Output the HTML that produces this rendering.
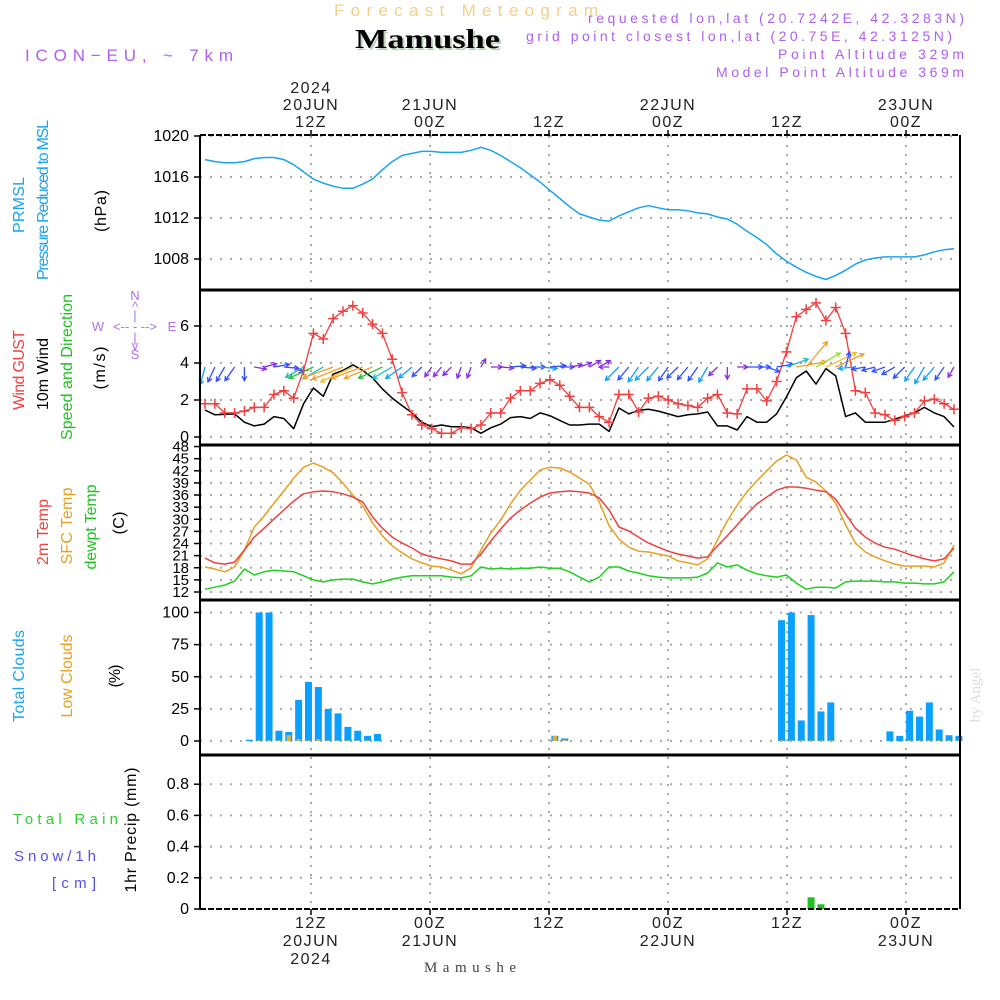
<!DOCTYPE html>
<html><head><meta charset="utf-8"><style>
html,body{margin:0;padding:0;background:#fff;}
svg{display:block;font-family:"Liberation Sans",sans-serif;}
</style></head><body>
<svg id="chart" width="1000" height="1000" viewBox="0 0 1000 1000">
<rect x="0" y="0" width="1000" height="1000" fill="#fff"/>
<!-- header -->
<text x="334" y="16" font-size="17" fill="#f5cf8a" textLength="264" lengthAdjust="spacing">Forecast Meteogram</text>
<text x="357" y="50" font-family="Liberation Serif,serif" font-weight="bold" font-size="27" fill="#bcd0bc" textLength="145" lengthAdjust="spacingAndGlyphs">Mamushe</text>
<text x="355" y="48" font-family="Liberation Serif,serif" font-weight="bold" font-size="27" fill="#000" textLength="145" lengthAdjust="spacingAndGlyphs">Mamushe</text>
<text x="25" y="61" font-size="17" fill="#b060f0" textLength="208" lengthAdjust="spacing">ICON−EU, ~ 7km</text>
<g font-size="14" fill="#b060f0" text-anchor="end">
<text x="964" y="23" textLength="376" lengthAdjust="spacing">requested lon,lat (20.7242E, 42.3283N)</text>
<text x="952" y="41" textLength="426" lengthAdjust="spacing">grid point closest lon,lat (20.75E, 42.3125N)</text>
<text x="964" y="59" textLength="186" lengthAdjust="spacing">Point Altitude 329m</text>
<text x="964" y="77" textLength="248" lengthAdjust="spacing">Model Point Altitude 369m</text>
</g>
<text x="980" y="695" font-family="Liberation Serif,serif" font-size="15" fill="#ddd" transform="rotate(-90 980 695)" text-anchor="middle">by Angel</text>
<text x="470" y="972" font-family="Liberation Serif,serif" font-size="15" fill="#444" text-anchor="middle" textLength="92" lengthAdjust="spacing">Mamushe</text>

<!-- left axis labels -->
<g font-size="16" text-anchor="middle">
<text x="24" y="205" fill="#1aa3f0" transform="rotate(-90 24 205)" textLength="56">PRMSL</text>
<text x="48" y="200" fill="#1aa3f0" transform="rotate(-90 48 200)" textLength="160">Pressure Reduced to MSL</text>
<text x="106" y="211" fill="#000" transform="rotate(-90 106 211)" textLength="42">(hPa)</text>
<text x="24" y="370" fill="#f04040" transform="rotate(-90 24 370)" textLength="80">Wind GUST</text>
<text x="48" y="374" fill="#000" transform="rotate(-90 48 374)" textLength="72">10m Wind</text>
<text x="72" y="367" fill="#20c020" transform="rotate(-90 72 367)" textLength="146">Speed and Direction</text>
<text x="105" y="368" fill="#000" transform="rotate(-90 105 368)" textLength="43">(m/s)</text>
<text x="48" y="532" fill="#f04040" transform="rotate(-90 48 532)" textLength="66">2m Temp</text>
<text x="72" y="526" fill="#e8a020" transform="rotate(-90 72 526)" textLength="77">SFC Temp</text>
<text x="96" y="527" fill="#20c020" transform="rotate(-90 96 527)" textLength="85">dewpt Temp</text>
<text x="124" y="523" fill="#000" transform="rotate(-90 124 523)" textLength="23">(C)</text>
<text x="24" y="676" fill="#1aa3f0" transform="rotate(-90 24 676)" textLength="92">Total Clouds</text>
<text x="72" y="676" fill="#e8a020" transform="rotate(-90 72 676)" textLength="83">Low Clouds</text>
<text x="120" y="676" fill="#000" transform="rotate(-90 120 676)" textLength="23">(%)</text>
<text x="136" y="830" fill="#000" transform="rotate(-90 136 830)" textLength="125">1hr Precip (mm)</text>
</g>
<g font-size="15">
<text x="13" y="824" fill="#30d030" textLength="105" lengthAdjust="spacing">Total   Rain</text>
<text x="14" y="861" fill="#5050f0" textLength="82" lengthAdjust="spacing">Snow/1h</text>
<text x="52" y="888" fill="#5050f0" textLength="44" lengthAdjust="spacing">[cm]</text>
</g>
<g fill="#b070f0" font-size="13" text-anchor="middle">
<text x="135" y="300">N</text><text x="135" y="311">^</text><text x="135" y="320">|</text>
<text x="98" y="331">W</text><text x="135" y="331">&lt;-- - --&gt;</text><text x="172" y="331">E</text>
<text x="135" y="342">|</text><text x="135" y="350">v</text><text x="135" y="359">S</text>
</g>

<g id="grid"></g>
<g id="marks"></g>
<g id="frame"></g>
<g id="ticks" font-size="16" fill="#000"></g>
</svg>
<script>
// ---- data (hourly, 77 steps starting ~01Z 20JUN) ----
var pressure=[1017.7,1017.5,1017.4,1017.4,1017.5,1017.8,1017.9,1017.9,1017.7,1017.2,1016.5,1015.8,1015.4,1015.1,1014.9,1014.9,1015.3,1015.8,1016.7,1017.5,1018.1,1018.3,1018.5,1018.5,1018.4,1018.4,1018.4,1018.6,1018.9,1018.6,1018.1,1017.5,1016.9,1016.2,1015.5,1014.7,1013.9,1013.1,1012.4,1012.1,1011.8,1011.7,1012.2,1012.6,1013.0,1013.2,1013.0,1012.8,1012.8,1012.7,1012.5,1012.4,1012.1,1011.9,1011.4,1010.7,1010.1,1009.4,1008.5,1007.8,1007.2,1006.7,1006.3,1006.0,1006.4,1006.9,1007.5,1007.9,1008.1,1008.2,1008.2,1008.2,1008.2,1008.4,1008.7,1008.9,1009.0];
var gust=[1.8,1.8,1.3,1.3,1.4,1.6,1.6,2.3,2.5,2.1,3.6,5.6,5.3,6.4,6.8,7.1,6.7,6.1,5.6,4.2,2.4,1.2,0.65,0.45,0.2,0.2,0.5,0.45,0.65,1.3,1.3,2.1,2.5,2.5,2.9,3.1,2.8,2.2,1.6,1.6,1.1,0.8,2.3,2.3,1.35,2.1,2.2,2.0,1.8,1.7,1.6,2.1,2.3,1.3,1.25,2.6,2.6,1.95,3.0,4.6,6.5,6.9,7.25,6.3,7.0,5.6,2.5,2.4,1.3,1.2,0.9,1.1,1.3,1.95,2.05,1.8,1.5];
var wind=[1.46,1.2,1.22,1.25,0.8,0.6,0.7,1.1,1.0,0.45,1.8,2.65,2.2,3.4,3.6,3.9,3.6,3.2,2.6,2.1,1.7,1.3,0.8,0.55,0.65,0.55,0.55,0.5,0.2,0.5,0.7,1.05,1.1,1.0,1.3,1.15,0.9,0.65,0.65,0.7,0.7,0.3,1.57,1.25,1.45,1.5,1.4,1.25,1.1,1.2,1.25,1.35,0.6,0.6,0.38,1.1,0.8,0.8,1.25,2.16,3.2,3.57,2.86,3.7,3.3,1.1,1.3,0.8,0.8,0.8,0.97,1.14,1.3,1.6,1.3,1.1,0.54];
var windDir=[195,205,210,215,180,100,75,80,95,120,240,245,240,250,248,245,250,248,245,240,235,230,225,215,220,225,200,200,30,90,95,85,95,90,95,85,90,80,70,60,60,270,225,220,215,225,220,215,225,220,215,210,225,180,90,90,90,110,80,70,80,40,60,65,65,15,265,260,255,250,240,225,215,210,220,215,210];
var temp2m=[20.4,19.2,18.9,19.4,22.4,25.6,27.8,30.1,32.3,34.5,36.3,36.8,37.0,36.8,36.3,35.5,34.3,30.6,27.8,25.6,24.1,22.9,21.4,20.7,20.2,19.7,18.9,18.9,21.4,24.6,27.6,30.3,32.3,34.0,35.5,36.5,36.8,37.0,36.8,36.5,35.3,32.3,28.1,27.1,25.6,24.1,23.1,22.1,21.4,20.9,20.4,20.7,23.4,25.9,28.6,31.3,33.8,35.5,37.2,38.0,38.0,37.7,37.2,36.8,35.0,31.3,27.8,25.6,24.1,23.1,22.6,21.7,20.9,20.2,19.7,20.2,22.9];
var tempSfc=[18.2,17.7,17.0,18.2,22.4,28.1,30.8,34.0,37.0,40.2,42.9,43.9,42.9,41.5,38.9,36.0,33.3,29.1,25.9,23.4,21.7,20.2,19.2,18.4,18.2,17.4,16.5,18.0,22.4,26.6,29.8,33.8,37.2,39.7,42.2,42.9,42.7,41.7,40.2,38.7,34.3,28.4,25.1,23.1,22.1,21.9,21.4,20.9,19.7,19.2,18.7,20.2,24.9,29.6,33.5,36.8,39.5,42.0,44.4,45.9,44.7,40.4,39.2,37.0,34.0,28.6,24.1,21.9,20.7,19.7,18.9,18.4,18.4,18.4,18.2,19.2,23.6];
var dewpt=[12.7,13.2,13.7,14.7,17.7,16.2,17.0,17.4,17.2,17.0,16.0,15.0,14.5,15.0,15.2,15.2,14.5,14.0,14.5,15.2,15.7,16.0,16.0,16.0,16.0,15.7,15.5,16.0,18.2,17.7,17.9,17.7,17.9,17.9,18.2,17.9,17.9,17.0,15.7,14.5,15.7,18.2,18.2,17.2,16.7,16.0,15.7,15.5,15.5,15.5,15.7,16.7,19.2,18.2,18.7,17.4,16.5,16.0,15.7,16.2,14.2,12.7,13.2,13.2,13.0,14.5,14.7,14.7,14.7,14.5,14.5,14.2,14.2,14.0,14.0,14.5,17.0];
var totalClouds=[0,0,0,0,1,100,100,8,7,32,46,42,25,21.5,11,8,4,5.5,0,0,0,0,0,0,0,0,0,0,0,0,0,0,0,0,0,4,2,0,0,0,0,0,0,0,0,0,0,0,0,0,0,0,0,0,0,0,0,0,94,100,16,98,23,30,0,0,0,0,0,7.5,4,23.5,19,30,9,4.5,4];
var lowClouds=[0,0,0,0,0,0.5,0.5,0.5,4.6,1.5,0.5,1.5,0.5,0.5,0.5,0.5,0.5,0,0,0,0,0,0,0,0,0,0,0,0,0,0,0,0,0,0,4,1,0,0,0,0,0,0,0,0,0,0,0,0,0,0,0,0,0,0,0,0,0,0.5,0.5,0.5,0.5,0.5,0.5,0,0,0,0,0,0,0,0.5,0.5,0.5,0.5,0.5,0.5];
var precip=[0,0,0,0,0,0,0,0,0,0,0,0,0,0,0,0,0,0,0,0,0,0,0,0,0,0,0,0,0,0,0,0,0,0,0,0,0,0,0,0,0,0,0,0,0,0,0,0,0,0,0,0,0,0,0,0,0,0,0,0,0,0.075,0.03,0,0,0,0,0,0,0,0,0,0,0,0,0,0];
var pressureTicks=[1020,1016,1012,1008];
var windTicks=[6,4,2,0];
var tempTicks=[48,45,42,39,36,33,30,27,24,21,18,15,12];
var cloudTicks=[100,75,50,25,0];
var precipTicks=["0.8","0.6","0.4","0.2","0"];
var timeTickHours=[12,24,36,48,60,72];
var timeTopLines=[["2024","20JUN","12Z"],["21JUN","00Z"],["12Z"],["22JUN","00Z"],["12Z"],["23JUN","00Z"]];
var timeBottomLines=[["12Z","20JUN","2024"],["00Z","21JUN"],["12Z"],["00Z","22JUN"],["12Z"],["00Z","23JUN"]];

// ---- scales ----
var NS='http://www.w3.org/2000/svg';
var L=200,R=960;
function X(i){return 205+i*9.855;}
function XT(h){return 311+(h-12)*9.917;}
function YP(p){return 136+(1020-p)*10.25;}
function YW(v){return 437-v*18.5;}
function YT(t){return 592-(t-12)*4.04;}
function YC(c){return 741-c*1.285;}
function YR(r){return 909-r*156;}
function mk(tag,attrs,parent){var e=document.createElementNS(NS,tag);for(var k in attrs)e.setAttribute(k,attrs[k]);parent.appendChild(e);return e;}
var grid=document.getElementById('grid'),marks=document.getElementById('marks'),frame=document.getElementById('frame'),ticks=document.getElementById('ticks');

timeTickHours.forEach(function(h){
  var l=mk('line',{x1:XT(h),x2:XT(h),y1:136,y2:908,stroke:'#aaa','stroke-width':2,'stroke-dasharray':'2,7'},grid);
  
  
});
function hgrid(y,name){
  var l=mk('line',{x1:L,x2:R,y1:y,y2:y,stroke:'#aaa','stroke-width':2,'stroke-dasharray':'2,8'},grid);
  
  
}
function ylabel(x,y,txt,name,size){
  var t=mk('text',{x:x,y:y+5,'text-anchor':'end','font-size':size||16},ticks);t.textContent=txt;
  
  
  mk('line',{x1:L-6,x2:L,y1:y,y2:y,stroke:'#000','stroke-width':1.5},ticks);
}
pressureTicks.forEach(function(p){hgrid(YP(p),'pressure-gridline');ylabel(189,YP(p),String(p),'pressure-tick-label');});
windTicks.forEach(function(v){hgrid(YW(v),'wind-gridline');ylabel(189,YW(v),String(v),'wind-tick-label');});
tempTicks.forEach(function(t){if(t<48)hgrid(YT(t),'temp-gridline');ylabel(189,YT(t),String(t),'temp-tick-label',15);});
cloudTicks.forEach(function(c){hgrid(YC(c),'cloud-gridline');ylabel(189,YC(c),String(c),'cloud-tick-label');});
precipTicks.forEach(function(r){var v=parseFloat(r);if(v>0)hgrid(YR(v),'precip-gridline');ylabel(189,YR(v),r,'precip-tick-label');});

timeTickHours.forEach(function(h,k){
  var x=XT(h);
  var top=timeTopLines[k];
  top.forEach(function(s,j){
    var t=mk('text',{x:x,y:127-(top.length-1-j)*17,'text-anchor':'middle','font-size':16,'letter-spacing':1.5,fill:'#222'},ticks);t.textContent=s;
    
    
  });
  timeBottomLines[k].forEach(function(s,j){
    var t=mk('text',{x:x,y:928+j*18,'text-anchor':'middle','font-size':16,'letter-spacing':1.5,fill:'#222'},ticks);t.textContent=s;
    
    
  });
  mk('line',{x1:x,x2:x,y1:130,y2:136,stroke:'#000','stroke-width':1.5},ticks);
  mk('line',{x1:x,x2:x,y1:909,y2:915,stroke:'#000','stroke-width':1.5},ticks);
});

function poly(arr,yf,color,name,w){
  var pts=arr.map(function(v,i){return X(i).toFixed(1)+','+yf(v).toFixed(1);}).join(' ');
  var p=mk('polyline',{points:pts,fill:'none',stroke:color,'stroke-width':w||1.5,'stroke-linejoin':'round'},marks);
  
  
  return p;
}
poly(pressure,YP,'#1aa3f0','pressure-line');
poly(wind,YW,'#000','wind-speed-line');
poly(gust,YW,'#f04040','wind-gust-line',1.3);
gust.forEach(function(v,i){
  var x=X(i),y=YW(v);
  var g=mk('path',{d:'M'+(x-5)+' '+y+'H'+(x+5)+'M'+x+' '+(y-5)+'V'+(y+5),stroke:'#f04040','stroke-width':1.5},marks);
  
  
});
function windColor(v){
  if(v<0.8)return '#8a2be2';if(v<1.3)return '#3050ff';if(v<1.8)return '#10a0f0';if(v<2.3)return '#20c0c0';
  if(v<2.8)return '#20c030';if(v<3.2)return '#a0e030';if(v<3.7)return '#f0a030';return '#f0c030';
}
windDir.forEach(function(d,i){
  var v=wind[i],len=8+7*v,a=d*Math.PI/180;
  var x0=X(i),y0=367,x1=x0+Math.sin(a)*len,y1=y0-Math.cos(a)*len;
  var hb=Math.atan2(y0-y1,x0-x1),hl=5;
  var hx1=x1+Math.cos(hb+0.5)*hl,hy1=y1+Math.sin(hb+0.5)*hl,hx2=x1+Math.cos(hb-0.5)*hl,hy2=y1+Math.sin(hb-0.5)*hl;
  var ar=mk('path',{d:'M'+x0.toFixed(1)+' '+y0+'L'+x1.toFixed(1)+' '+y1.toFixed(1)+'M'+hx1.toFixed(1)+' '+hy1.toFixed(1)+'L'+x1.toFixed(1)+' '+y1.toFixed(1)+'L'+hx2.toFixed(1)+' '+hy2.toFixed(1),stroke:windColor(v),'stroke-width':1.3,fill:'none'},marks);
  
  
});
poly(tempSfc,YT,'#e8a020','sfc-temp-line');
poly(temp2m,YT,'#f04040','temp-2m-line');
poly(dewpt,YT,'#20d020','dewpoint-line');
totalClouds.forEach(function(c,i){
  var xc=205+(i+0.5)*9.855;
  if(c>0){var b=mk('rect',{x:xc-3.5,y:YC(c),width:7,height:YC(0)-YC(c),fill:'#0aa0ff'},marks);
  
  }
  var lc=lowClouds[i];
  if(lc>0){var o=mk('rect',{x:xc-2,y:YC(lc),width:4,height:YC(0)-YC(lc),fill:'#e8b030'},marks);
  
  }
});
precip.forEach(function(r,i){
  if(r<=0)return;
  var xc=205+(i+0.5)*9.855;
  var b=mk('rect',{x:xc-3.5,y:YR(r),width:7,height:YR(0)-YR(r),fill:'#20c020'},marks);
  
  
});
mk('line',{x1:L,x2:R,y1:135,y2:135,stroke:'#000','stroke-width':2,'stroke-dasharray':'6,2'},frame);
mk('line',{x1:L,x2:R,y1:909,y2:909,stroke:'#000','stroke-width':2,'stroke-dasharray':'6,2'},frame);
[290,445,600,755].forEach(function(y){
  var s=mk('line',{x1:L-1,x2:R+1,y1:y,y2:y,stroke:'#000','stroke-width':3},frame);
  
  
});
mk('line',{x1:L,x2:L,y1:135,y2:909,stroke:'#000','stroke-width':2},frame);
mk('line',{x1:R,x2:R,y1:135,y2:909,stroke:'#000','stroke-width':2},frame);
</script>
</body></html>
